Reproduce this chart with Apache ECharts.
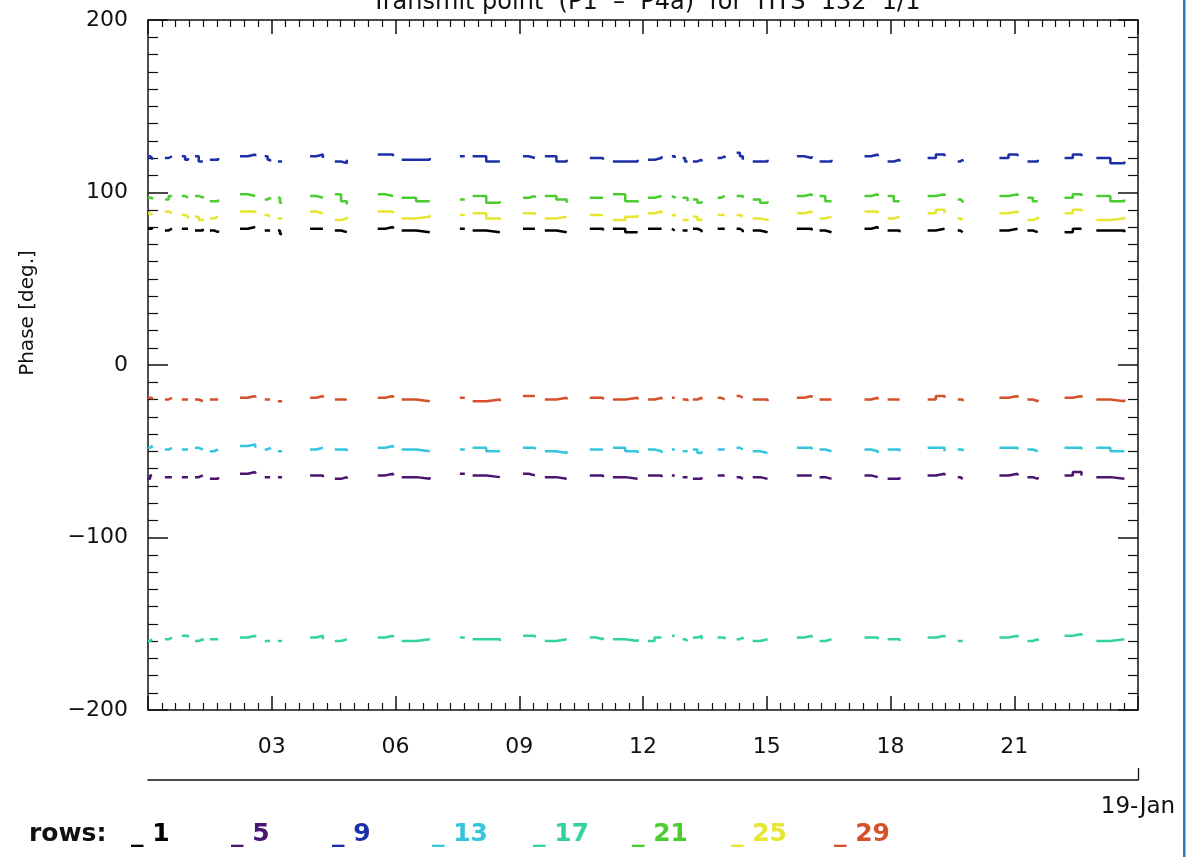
<!DOCTYPE html>
<html><head><meta charset="utf-8">
<script src="https://cdn.jsdelivr.net/npm/echarts@6/dist/echarts.min.js"></script>
<style>html,body{margin:0;padding:0;background:#fff}#c{width:1195px;height:857px}</style>
</head><body><div id="c"></div>
<script>
// ---- data ----
const titleText = 'Transmit point  (P1  –  P4a)  for  HTS  132  1/1';
const yTitle = 'Phase [deg.]';
const dateLabel = '19-Jan';
const xTicks = [0, 3, 6, 9, 12, 15, 18, 21, 24];
const yTicks = [-200, -100, 0, 100, 200];
const rowNames = ['1', '5', '9', '13', '17', '21', '25', '29'];
const rowColors = ['#000000', '#4a1470', '#1c2fa8', '#35c5dd', '#34d399', '#4ccc30', '#e6e632', '#d4512b'];

// measurement segments (hours of day): start, middle, end
const segTimes = [
  [0.00,0.05,0.10],[0.41,0.50,0.58],[0.82,0.90,0.97],[1.14,1.23,1.33],[1.50,1.60,1.70],
  [2.23,2.42,2.60],[2.83,2.90,2.96],[3.15,3.20,3.25],[3.93,4.08,4.24],[4.53,4.68,4.82],
  [5.57,5.75,5.94],[6.15,6.50,6.83],[7.56,7.62,7.68],[7.87,8.20,8.53],[9.09,9.23,9.38],
  [9.62,9.90,10.15],[10.71,10.87,11.03],[11.27,11.57,11.87],[12.12,12.28,12.45],[12.70,12.74,12.77],
  [12.96,13.02,13.08],[13.21,13.32,13.42],[13.81,13.90,13.98],[14.27,14.35,14.42],[14.66,14.84,15.02],
  [15.73,15.91,16.09],[16.28,16.42,16.57],[17.37,17.53,17.69],[17.93,18.08,18.22],[18.90,19.10,19.31],
  [19.63,19.69,19.75],[20.64,20.86,21.08],[21.32,21.45,21.57],[22.22,22.42,22.63],[22.99,23.33,23.67]
];

const row1 = [79,79,80, 78,79,79, 79,79,79, 78,78,79, 78,77,78, 79,80,80, 78,78,78, 78,76,76, 79,79,79, 78,77,77,
  79,80,79, 78,77,77, 79,79,79, 78,77,77, 79,79,79, 78,77,77, 79,79,78, 79,77,77, 79,79,79, 79,78,78,
  78,78,78, 79,78,77, 79,79,79, 79,78,77, 78,77,77, 79,79,78, 78,77,77, 79,80,79, 78,78,77, 78,79,79,
  78,77,77, 78,79,79, 78,77,77, 77,79,79, 78,78,77];
const row5 = [-66,-64,-64, -65,-65,-65, -65,-65,-65, -65,-64,-64, -66,-66,-65, -63,-62,-63, -65,-65,-65, -65,-65,-65, -64,-64,-65, -66,-65,-66,
  -64,-63,-64, -65,-66,-65, -63,-63,-63, -64,-65,-65, -63,-64,-64, -65,-66,-66, -64,-64,-65, -65,-66,-66, -64,-64,-65, -64,-64,-64,
  -65,-65,-65, -66,-66,-65, -64,-64,-64, -65,-66,-66, -65,-66,-66, -64,-64,-64, -65,-66,-66, -64,-65,-65, -66,-66,-65, -64,-63,-64,
  -65,-66,-66, -64,-63,-64, -65,-66,-65, -64,-62,-64, -65,-66,-66];
const row9 = [121,120,119, 120,121,121, 121,119,120, 121,118,118, 119,119,120, 121,122,121, 121,119,118, 118,118,118, 121,122,120, 118,117,119,
  122,122,121, 119,119,120, 121,121,121, 121,118,118, 121,120,120, 121,118,119, 120,120,119, 118,118,119, 119,120,121, 121,121,120,
  120,118,118, 118,119,118, 120,121,120, 123,121,119, 118,118,119, 121,120,121, 118,118,119, 121,122,121, 118,119,118, 120,122,121,
  118,119,118, 120,122,121, 118,118,119, 120,122,121, 120,117,118];
const row13 = [-48,-47,-48, -49,-48,-48, -49,-49,-49, -48,-49,-49, -50,-49,-49, -47,-46,-48, -49,-48,-49, -50,-50,-50, -49,-48,-48, -49,-49,-50,
  -48,-47,-48, -49,-50,-50, -49,-49,-49, -48,-50,-50, -48,-48,-49, -50,-51,-50, -49,-49,-49, -48,-50,-51, -49,-50,-51, -49,-49,-49,
  -50,-50,-50, -49,-51,-50, -49,-49,-49, -48,-49,-49, -50,-51,-51, -48,-48,-49, -49,-50,-50, -49,-50,-51, -49,-49,-50, -48,-48,-50,
  -49,-49,-50, -48,-48,-49, -49,-50,-50, -48,-48,-49, -48,-50,-50];
const row17 = [-160,-159,-159, -159,-158,-158, -157,-157,-158, -160,-159,-160, -159,-159,-159, -158,-157,-158, -160,-160,-160, -160,-160,-160, -158,-157,-159, -160,-159,-159,
  -158,-157,-158, -160,-159,-159, -158,-158,-158, -159,-159,-160, -157,-157,-158, -160,-159,-159, -158,-159,-158, -159,-160,-159, -160,-158,-158, -157,-157,-157,
  -159,-160,-160, -158,-157,-159, -158,-158,-159, -159,-158,-159, -160,-159,-159, -158,-157,-158, -160,-159,-159, -158,-158,-159, -159,-159,-160, -158,-157,-158,
  -160,-160,-160, -158,-157,-158, -160,-159,-160, -157,-156,-157, -160,-159,-159];
const row21 = [97,97,96, 96,98,98, 98,97,97, 98,97,98, 95,95,96, 99,98,98, 96,97,96, 97,94,94, 98,97,97, 99,95,93,
  99,98,98, 97,95,95, 96,96,96, 98,94,95, 97,98,97, 98,96,94, 97,97,97, 99,95,94, 97,98,98, 98,97,98,
  97,97,95, 96,94,95, 97,98,98, 98,98,97, 96,94,95, 98,99,98, 98,95,95, 98,99,98, 98,95,95, 98,99,98,
  96,95,94, 98,99,98, 97,95,95, 97,99,98, 98,95,96];
const row25 = [88,87,87, 89,88,88, 87,86,85, 86,84,85, 85,86,86, 89,89,88, 87,86,86, 85,85,85, 89,88,88, 84,85,86,
  89,89,88, 85,86,87, 87,87,87, 88,85,84, 88,88,87, 85,86,86, 87,87,87, 84,86,87, 88,89,88, 87,87,86,
  84,84,85, 86,84,85, 87,87,87, 87,86,86, 85,84,85, 88,89,88, 85,86,86, 89,89,88, 85,86,86, 88,90,88,
  85,84,84, 88,89,88, 84,85,86, 88,90,89, 84,85,86];
const row29 = [-19,-19,-20, -20,-19,-19, -20,-20,-20, -20,-21,-21, -20,-20,-20, -19,-18,-19, -20,-20,-20, -21,-21,-21, -19,-18,-19, -20,-20,-20,
  -19,-18,-19, -20,-21,-21, -19,-19,-19, -21,-20,-21, -18,-18,-18, -20,-19,-20, -19,-19,-20, -20,-19,-20, -20,-19,-20, -19,-19,-19,
  -20,-20,-21, -20,-19,-20, -19,-20,-20, -18,-19,-19, -20,-20,-21, -19,-18,-19, -20,-20,-20, -20,-19,-20, -20,-20,-20, -20,-18,-19,
  -20,-20,-21, -19,-18,-19, -20,-21,-20, -19,-18,-19, -20,-21,-20];
const rowValues = [row1, row5, row9, row13, row17, row21, row25, row29];

// ---- build ----
function build(vals) {
  const d = [];
  segTimes.forEach((s, i) => {
    for (let k = 0; k < 3; k++) d.push([s[k], vals[i * 3 + k]]);
    d.push([s[2], '-']);
  });
  return d;
}
const FONT = 'DejaVu Sans';
const chart = echarts.init(document.getElementById('c'), null, {renderer: 'canvas'});
const tickStyle = () => ({color: '#111', width: 1.5});
function bottomX() {
  return {
    type: 'value', min: 0, max: 24, interval: 3, position: 'bottom',
    axisLine: {show: true, onZero: false, lineStyle: {color: '#111', width: 1.5}},
    axisTick: {show: true, inside: true, length: 14, lineStyle: tickStyle()},
    minorTick: {show: true, splitNumber: 9, length: 7, lineStyle: {color: '#111', width: 1.2}},
    splitLine: {show: false},
    axisLabel: {show: true, margin: 26, fontFamily: FONT, fontSize: 22, color: '#111',
      formatter: v => (v === xTicks[0] || v === xTicks[xTicks.length - 1]) ? '' : String(v).padStart(2, '0')}
  };
}
// top mirror axes: outward ticks shifted into the box with a negative offset
function topX(offset, showLine, majorLen, minorLen) {
  return {
    type: 'value', min: 0, max: 24, interval: 3, position: 'top', offset: offset,
    axisLine: {show: showLine, onZero: false, lineStyle: {color: '#111', width: 1.5}},
    axisTick: {show: majorLen > 0, inside: false, length: majorLen, lineStyle: tickStyle()},
    minorTick: {show: minorLen > 0, splitNumber: 9, length: minorLen, lineStyle: {color: '#111', width: 1.2}},
    splitLine: {show: false},
    axisLabel: {show: false}
  };
}
function mkY(pos, labels) {
  return {
    type: 'value', min: -200, max: 200, interval: 100, position: pos,
    axisLine: {show: true, onZero: false, lineStyle: {color: '#111', width: 1.5}},
    axisTick: {show: true, inside: true, length: 20, lineStyle: tickStyle()},
    minorTick: {show: true, splitNumber: 10, length: 10, lineStyle: {color: '#111', width: 1.2}},
    splitLine: {show: false},
    axisLabel: labels ? {show: true, margin: 20, fontFamily: FONT, fontSize: 22, color: '#111',
      formatter: v => String(v).replace('-', '\u2212')} : {show: false}
  };
}
const legendLefts = [126, 226, 327, 427, 528, 627, 726, 829];
chart.setOption({
  backgroundColor: '#ffffff',
  animation: false,
  title: {
    text: titleText, left: 641, textAlign: 'center', top: -14,
    textStyle: {fontFamily: FONT, fontSize: 24, fontWeight: 'normal', color: '#111'}
  },
  grid: {left: 148, right: 57, top: 20, bottom: 147, containLabel: false},
  legend: rowNames.map((n, i) => ({
    left: legendLefts[i], top: 822, icon: 'none', itemWidth: 0, itemHeight: 14,
    selectedMode: false, padding: 0,
    data: [{name: n}],
    formatter: nm => '_ ' + nm,
    textStyle: {fontFamily: FONT, fontSize: 25, fontWeight: 'bold', color: rowColors[i]}
  })),
  xAxis: [
    bottomX(),
    topX(0, true, 0, 0),
    topX(-14, false, 14, 0),
    topX(-7, false, 7, 7),
    {
      type: 'value', min: 0, max: 24, position: 'bottom', offset: 70,
      axisLine: {show: true, onZero: false, lineStyle: {color: '#111', width: 1.5}},
      axisTick: {show: true, inside: true, length: 12, customValues: [24], lineStyle: {color: '#111', width: 1.3}},
      axisLabel: {show: true, customValues: [24], formatter: () => dateLabel, margin: 16,
        fontFamily: FONT, fontSize: 23, color: '#111'},
      splitLine: {show: false}
    }
  ],
  yAxis: [mkY('left', true), mkY('right', false)],
  graphic: [
    {type: 'text', left: 29, top: 822, style: {text: 'rows:', font: 'bold 25px "DejaVu Sans"', fill: '#111'}},
    {type: 'text', x: 28, y: 313, rotation: Math.PI / 2,
      style: {text: yTitle, font: '20px "DejaVu Sans"', fill: '#111', align: 'center', verticalAlign: 'middle'}},
    {type: 'rect', shape: {x: 1183, y: 0, width: 2.5, height: 857}, style: {fill: '#2f74b5'}, z: 100},
    {type: 'rect', shape: {x: 1185.5, y: 0, width: 10, height: 857}, style: {fill: '#ffffff'}, z: 99}
  ],
  series: rowNames.map((n, i) => ({
    name: n, type: 'line', xAxisIndex: 0, yAxisIndex: 0,
    data: build(rowValues[i]), step: 'end', showSymbol: false, symbol: 'none',
    connectNulls: false, lineStyle: {color: rowColors[i], width: 2.5}, itemStyle: {color: rowColors[i]}
  }))
});
</script></body></html>
